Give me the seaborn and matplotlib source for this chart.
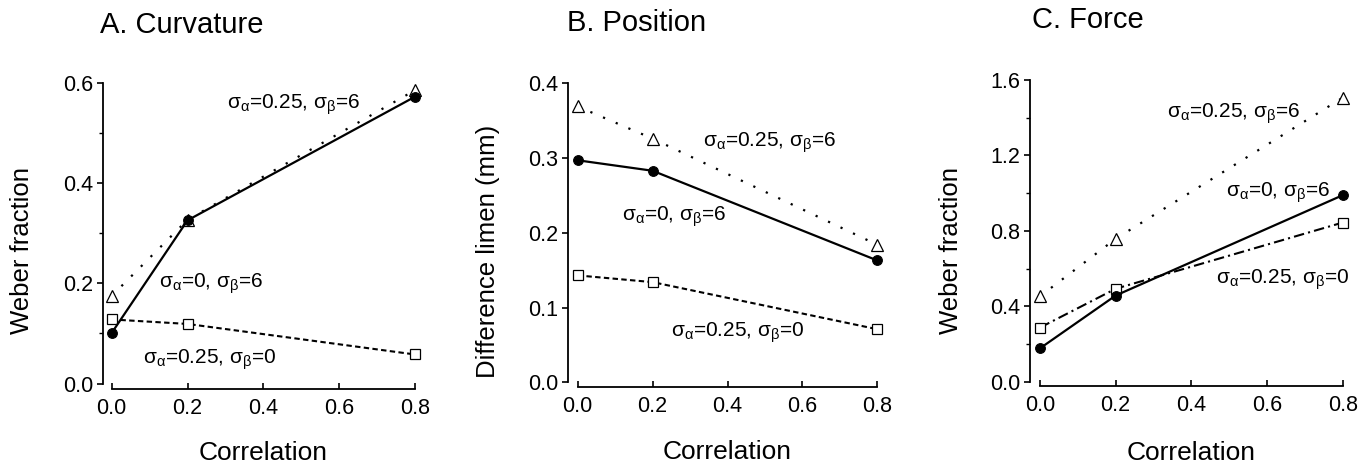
import numpy as np
import pandas as pd
import matplotlib
matplotlib.use("Agg")
import matplotlib.pyplot as plt
from matplotlib.ticker import MultipleLocator
import seaborn as sns

# ---------------- data ----------------
correlation = [0.0, 0.2, 0.8]
x_ticks = [0.0, 0.2, 0.4, 0.6, 0.8]

curv_a0_b6 = [0.101, 0.326, 0.573]
curv_a25_b6 = [0.175, 0.327, 0.586]
curv_a25_b0 = [0.128, 0.119, 0.058]

pos_a0_b6 = [0.297, 0.283, 0.163]
pos_a25_b6 = [0.369, 0.326, 0.184]
pos_a25_b0 = [0.143, 0.134, 0.071]

force_a0_b6 = [0.177, 0.457, 0.989]
force_a25_b6 = [0.453, 0.758, 1.506]
force_a25_b0 = [0.287, 0.493, 0.844]

titles = ["A. Curvature", "B. Position", "C. Force"]
ylabels = ["Weber fraction", "Difference limen (mm)", "Weber fraction"]
xlabel = "Correlation"
lab_a25_b6 = r"$\mathregular{\sigma_\alpha}$=0.25, $\mathregular{\sigma_\beta}$=6"
lab_a0_b6 = r"$\mathregular{\sigma_\alpha}$=0, $\mathregular{\sigma_\beta}$=6"
lab_a25_b0 = r"$\mathregular{\sigma_\alpha}$=0.25, $\mathregular{\sigma_\beta}$=0"

# ---------------- style ----------------
sns.set_theme(style="ticks")
plt.rcParams["font.family"] = ["Liberation Sans", "DejaVu Sans"]
plt.rcParams["mathtext.fontset"] = "custom"
plt.rcParams["mathtext.rm"] = "Liberation Sans"
plt.rcParams["mathtext.it"] = "Liberation Sans:italic"
plt.rcParams["mathtext.bf"] = "Liberation Sans:bold"

W, H = 1370, 466
fig = plt.figure(figsize=(W / 100, H / 100), dpi=100)

panels = [
    dict(x0=111.7, x1=415.0, yb=383.5, yt=83.2, lsp=102.7, bsp=389.3, ymax=0.6,
         major=0.2, minor=0.1),
    dict(x0=577.7, x1=877.3, yb=382.3, yt=83.3, lsp=567.7, bsp=387.0, ymax=0.4,
         major=0.1, minor=None),
    dict(x0=1040.0, x1=1342.7, yb=381.7, yt=80.0, lsp=1030.0, bsp=385.5, ymax=1.6,
         major=0.4, minor=0.2),
]

series = [
    (curv_a0_b6, curv_a25_b6, curv_a25_b0),
    (pos_a0_b6, pos_a25_b6, pos_a25_b0),
    (force_a0_b6, force_a25_b6, force_a25_b0),
]

sq_styles = [(0, (2.6, 1.6)), (0, (2.6, 1.6)), (0, (5, 2, 1, 2))]

ann = [
    [(0.304, 0.5495, lab_a25_b6), (0.125, 0.192, lab_a0_b6), (0.083, 0.039, lab_a25_b0)],
    [(0.335, 0.315, lab_a25_b6), (0.1175, 0.216, lab_a0_b6), (0.249, 0.061, lab_a25_b0)],
    [(0.3365, 1.402, lab_a25_b6), (0.4916, 0.981, lab_a0_b6), (0.465, 0.522, lab_a25_b0)],
]

title_px = [(100.0, 33.0), (566.7, 31.0), (1031.7, 28.5)]
ylabel_px_x = [22.5, 488.3, 950.8]
ylabel_px_y = [250.0, 251.7, 250.0]
xlabel_px_y = [452.5, 451.7, 453.0]

for i, p in enumerate(panels):
    left = p["x0"] / W
    width = (p["x1"] - p["x0"]) / W
    bottom = 1 - p["yb"] / H
    height = (p["yb"] - p["yt"]) / H
    ax = fig.add_axes([left, bottom, width, height])
    ax.set_facecolor("white")

    s_circ, s_tri, s_sq = series[i]
    df = pd.DataFrame({"corr": correlation, "circ": s_circ, "tri": s_tri, "sq": s_sq})

    sns.lineplot(data=df, x="corr", y="sq", ax=ax, color="black", lw=1.5,
                 linestyle=sq_styles[i], marker="s", markersize=6.5,
                 markerfacecolor="white", markeredgecolor="black",
                 markeredgewidth=0.9, clip_on=False, zorder=3)
    sns.lineplot(data=df, x="corr", y="tri", ax=ax, color="black", lw=1.6,
                 linestyle=(0, (1, 5.2)), marker="^", markersize=8,
                 markerfacecolor="white", markeredgecolor="black",
                 markeredgewidth=0.9, clip_on=False, zorder=3)
    sns.lineplot(data=df, x="corr", y="circ", ax=ax, color="black", lw=1.6,
                 linestyle="-", marker="o", markersize=7,
                 markerfacecolor="black", markeredgecolor="black",
                 markeredgewidth=0.8, clip_on=False, zorder=4)

    ax.set_xlim(0, 0.8)
    ax.set_ylim(0, p["ymax"])
    ax.set_xticks(x_ticks)
    ax.set_xticklabels([f"{v:.1f}" for v in x_ticks])
    ax.yaxis.set_major_locator(MultipleLocator(p["major"]))
    if p["minor"]:
        ax.yaxis.set_minor_locator(MultipleLocator(p["minor"]))
    ax.yaxis.set_major_formatter(matplotlib.ticker.FormatStrFormatter("%.1f"))

    for side in ["top", "right"]:
        ax.spines[side].set_visible(False)
    ax.spines["left"].set_position(("outward", (p["x0"] - p["lsp"]) * 0.72))
    ax.spines["bottom"].set_position(("outward", (p["bsp"] - p["yb"]) * 0.72))
    for side in ["left", "bottom"]:
        ax.spines[side].set_linewidth(1.3)
        ax.spines[side].set_color("black")

    ax.tick_params(axis="y", which="major", direction="out", length=4.5, width=1.2,
                   labelsize=15.5, pad=2.5, colors="black")
    ax.tick_params(axis="y", which="minor", direction="out", length=3, width=1.0,
                   colors="black")
    ax.tick_params(axis="x", which="major", direction="in", length=4.5, width=1.2,
                   labelsize=15.5, pad=6.5, colors="black")

    ax.set_xlabel(xlabel, fontsize=19, color="black", va="center")
    ax.xaxis.set_label_coords(0.5, (p["yb"] - xlabel_px_y[i]) / (p["yb"] - p["yt"]))
    ax.set_ylabel(ylabels[i], fontsize=18.5, color="black", va="center")
    ax.yaxis.set_label_coords((ylabel_px_x[i] - p["x0"]) / (p["x1"] - p["x0"]),
                              (p["yb"] - ylabel_px_y[i]) / (p["yb"] - p["yt"]))

    tx, ty = title_px[i]
    fig.text(tx / W, 1 - ty / H, titles[i], fontsize=21, ha="left",
             va="baseline", color="black")

    for (ax_, ay_, txt) in ann[i]:
        ax.text(ax_, ay_, txt, fontsize=15, ha="left", va="baseline", color="black")

fig.savefig("out.png", dpi=100, facecolor="white")
